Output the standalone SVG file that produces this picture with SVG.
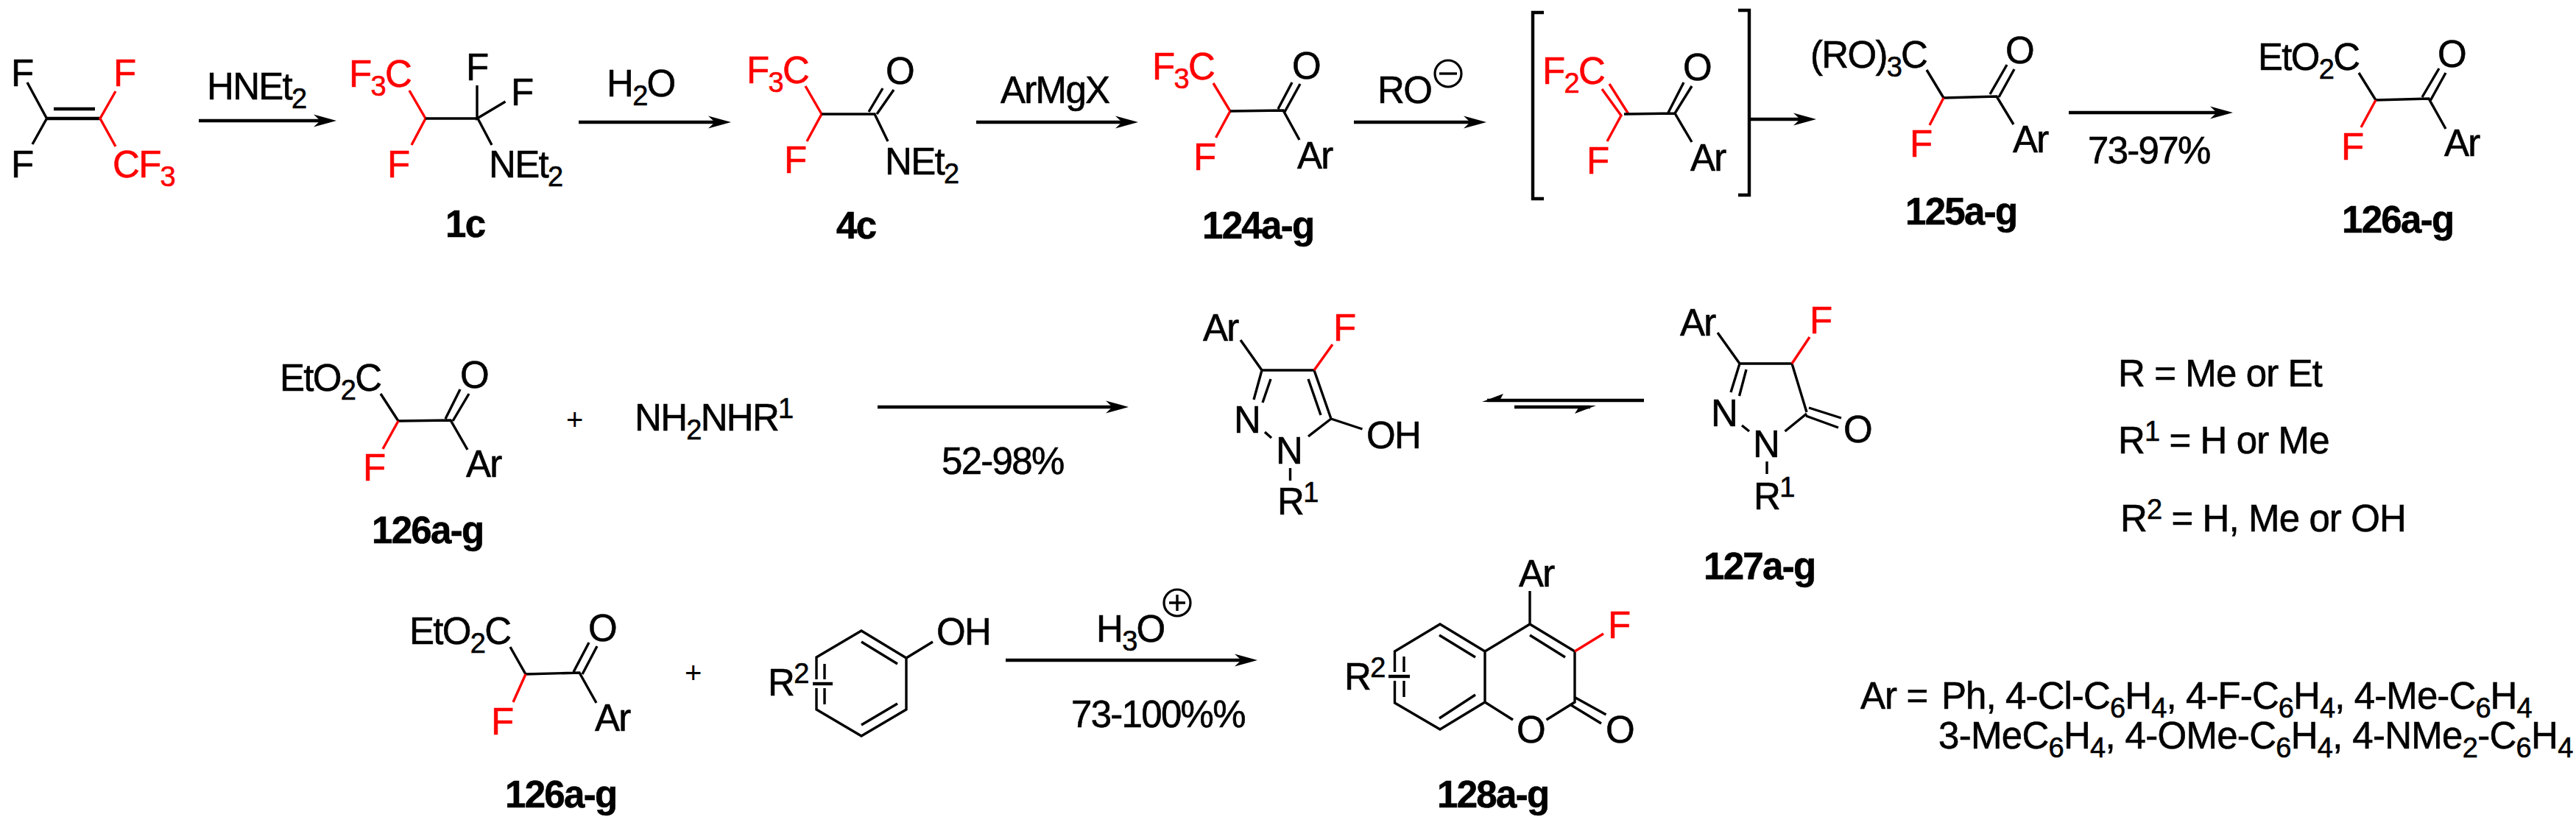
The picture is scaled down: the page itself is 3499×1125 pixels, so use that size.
<svg xmlns="http://www.w3.org/2000/svg" width="3499" height="1125" viewBox="0 0 3499 1125">
<style>
text{font-family:"Liberation Sans",Arial,sans-serif;font-size:51px;letter-spacing:-1.7px;fill:#000;stroke:#000;stroke-width:.6px}
text.r{fill:#f00;stroke:#f00}
text.b{font-weight:bold}
text.p{font-size:40px;stroke-width:0}
text.d{letter-spacing:-.9px}
text.w{letter-spacing:-.7px}
tspan.s{font-size:38px}
path{fill:none;stroke:#000;stroke-width:3.4}
path.r{stroke:#f00}
path.k{stroke-width:4.4}
path.h{fill:#000;stroke:none}
.a{stroke:#000;stroke-width:4.4;fill:none;marker-end:url(#head)}
circle{fill:none;stroke:#000;stroke-width:3.2}
</style>
<defs>
<marker id="head" markerUnits="userSpaceOnUse" markerWidth="32" markerHeight="18" refX="10" refY="9" orient="auto" viewBox="0 0 32 18"><path d="M0,0.5 L31,9 L0,17.5 L9,9 Z" style="fill:#000;stroke:none"/></marker>
</defs>
<rect width="3499" height="1125" fill="#fff"/>

<g id="connectors">
<path class="a" d="M270,164H436"/>
<path class="a" d="M786,166H972"/>
<path class="a" d="M1326,166H1525"/>
<path class="a" d="M1839,166H1998"/>
<path class="a" d="M2378,162H2446"/>
<path class="a" d="M2810,153H3012"/>
<path class="a" d="M1192,553H1512"/>
<path class="a" d="M1366,897H1687"/>
<path class="k" d="M2233,544H2020"/>
<path class="h" d="M2013,546L2042,535L2036,546Z"/>
<path class="k" d="M2057,553H2160"/>
<path class="h" d="M2168,551L2139,562L2146,551Z"/>
</g>

<g id="reagents">
<text x="281" y="135">HNEt<tspan class="s" dy="12">2</tspan></text>
<text x="824" y="131">H<tspan class="s" dy="12">2</tspan><tspan dy="-12">O</tspan></text>
<text x="1359" y="140">ArMgX</text>
<text x="1871" y="140">RO</text>
<circle cx="1967" cy="100" r="18"/><path d="M1955,100H1979"/>
<text x="2836" y="222">73-97%</text>
<text x="1279" y="644">52-98%</text>
<text x="1489" y="872">H<tspan class="s" dy="12">3</tspan><tspan dy="-12">O</tspan></text>
<circle cx="1599" cy="819" r="18"/><path d="M1588,819H1610M1599,808V830"/>
<text x="1455" y="988">73-100%%</text>
<text class="p" x="769" y="584">+</text>
<text class="p" x="930" y="928">+</text>
</g>

<g id="tfp">
<path class="k" d="M63.5,161H136M73,148H129"/>
<path d="M37,112L63.5,161L44,196"/>
<path class="r" d="M157,124L136,161L157,199"/>
<text x="15" y="117">F</text><text class="r" x="154" y="117">F</text>
<text x="15" y="241">F</text><text class="r" x="153" y="241">CF<tspan class="s" dy="12">3</tspan></text>
</g>

<g id="c1c">
<path class="r" d="M556,123L578,161L559,197"/>
<path d="M578,161H649M648,116V161L686.5,138M649,161L668,197"/>
<text class="r" x="474" y="118">F<tspan class="s" dy="12">3</tspan><tspan dy="-12">C</tspan></text>
<text x="633" y="109">F</text><text x="694" y="143">F</text>
<text x="664" y="241">NEt<tspan class="s" dy="12">2</tspan></text>
<text class="r" x="526" y="241">F</text>
<text class="b" x="605" y="322">1c</text>
</g>

<g id="c4c">
<path class="r" d="M1094,117L1116,155L1096,192"/>
<path d="M1116,155H1188L1206,192M1199,120L1180,152M1214,122L1191,155"/>
<text class="r" x="1014" y="113">F<tspan class="s" dy="12">3</tspan><tspan dy="-12">C</tspan></text>
<text class="r" x="1065" y="235">F</text>
<text x="1203" y="114">O</text>
<text x="1202" y="237">NEt<tspan class="s" dy="12">2</tspan></text>
<text class="b" x="1136" y="324">4c</text>
</g>

<g id="c124">
<path class="r" d="M1648,113L1671,151L1651.5,187"/>
<path d="M1671,151L1743,150L1765,190M1755,112L1736,148M1766,114L1745,152"/>
<text class="r" x="1565" y="108">F<tspan class="s" dy="12">3</tspan><tspan dy="-12">C</tspan></text>
<text x="1755" y="107">O</text>
<text class="r" x="1621" y="231">F</text>
<text x="1762" y="229">Ar</text>
<text class="b" x="1633" y="324">124a-g</text>
</g>

<g id="intermediate">
<path class="k" d="M2097,17H2082V270H2097M2361,14H2376V265H2361"/>
<path class="r" d="M2176,121L2202,157L2183,192M2186,114L2212,155"/>
<path d="M2206,155L2275,154L2298,193M2287,112L2266,153M2298,117L2275,154"/>
<text class="r" x="2095" y="114">F<tspan class="s" dy="12">2</tspan><tspan dy="-12">C</tspan></text>
<text x="2286" y="109">O</text>
<text class="r" x="2155" y="236">F</text>
<text x="2296" y="232">Ar</text>
</g>

<g id="c125">
<path d="M2617,95L2640,133L2712,131L2735,169M2726,88L2703,128M2736,94L2715,132"/>
<path class="r" d="M2640,133L2621,170"/>
<text x="2459" y="92">(RO)<tspan class="s" dy="12">3</tspan><tspan dy="-12">C</tspan></text>
<text x="2724" y="86">O</text>
<text class="r" x="2594" y="213">F</text>
<text x="2734" y="207">Ar</text>
<text class="b" x="2588" y="305">125a-g</text>
</g>

<g id="c126-top">
<path d="M3204,99L3227,136L3299,134L3322,175M3313,93L3290,132M3322,99L3301,137"/>
<path class="r" d="M3227,136L3207,173"/>
<text x="3067" y="95">EtO<tspan class="s" dy="12">2</tspan><tspan dy="-12">C</tspan></text>
<text x="3311" y="91">O</text>
<text class="r" x="3180" y="217">F</text>
<text x="3320" y="212">Ar</text>
<text class="b" x="3181" y="316">126a-g</text>
</g>

<g id="c126-mid">
<path d="M517,535L541,572L612,571L635,611M625,529L605,569M637,535L615,572"/>
<path class="r" d="M541,572L520,610"/>
<text x="380" y="531">EtO<tspan class="s" dy="12">2</tspan><tspan dy="-12">C</tspan></text>
<text x="625" y="527">O</text>
<text class="r" x="493" y="653">F</text>
<text x="633" y="648">Ar</text>
<text class="b" x="505" y="738">126a-g</text>
</g>

<g id="hydrazine">
<text x="862" y="585">NH<tspan class="s" dy="12">2</tspan><tspan dy="-12">NHR</tspan><tspan class="s" dy="-17">1</tspan></text>
</g>

<g id="hydroxypyrazole">
<path d="M1685,462L1714,503H1785M1714,503L1703,543M1726,515L1715,547M1785,503L1808,569M1777,515L1794,564M1808,569L1850.5,583M1808,569L1777,593M1718,587L1727,595M1752.5,636V653"/>
<path class="r" d="M1810,468L1785,503"/>
<text x="1634" y="463">Ar</text>
<text class="r" x="1811" y="463">F</text>
<text x="1676" y="588">N</text>
<text x="1733" y="630">N</text>
<text x="1735" y="699">R<tspan class="s" dy="-17">1</tspan></text>
<text x="1856" y="609">OH</text>
</g>

<g id="c127">
<path d="M2333,452L2363,494H2434M2363,494L2351,533M2372,502L2362.5,538M2434,494L2454,560M2457,554L2501,568M2453,565L2497,581M2454,562L2424.5,586M2366,578L2376,586M2400,627V644"/>
<path class="r" d="M2458,458L2434,494"/>
<text x="2282" y="456">Ar</text>
<text class="r" x="2458" y="453">F</text>
<text x="2324" y="579">N</text>
<text x="2381" y="621">N</text>
<text x="2382" y="692">R<tspan class="s" dy="-17">1</tspan></text>
<text x="2504" y="601">O</text>
<text class="b" x="2314" y="787">127a-g</text>
</g>

<g id="definitions">
<text class="d" x="2877" y="525">R = Me or Et</text>
<text class="d" x="2877" y="616">R<tspan class="s" dy="-17">1</tspan><tspan dy="17"> = H or Me</tspan></text>
<text class="d" x="2880" y="722">R<tspan class="s" dy="-17">2</tspan><tspan dy="17"> = H, Me or OH</tspan></text>
<text class="d" x="2527" y="963">Ar =<tspan x="2637">Ph, 4-Cl-C</tspan><tspan class="s" dy="12">6</tspan><tspan dy="-12">H</tspan><tspan class="s" dy="12">4</tspan><tspan dy="-12">, 4-F-C</tspan><tspan class="s" dy="12">6</tspan><tspan dy="-12">H</tspan><tspan class="s" dy="12">4</tspan><tspan dy="-12">, 4-Me-C</tspan><tspan class="s" dy="12">6</tspan><tspan dy="-12">H</tspan><tspan class="s" dy="12">4</tspan></text>
<text class="w" x="2633" y="1017">3-MeC<tspan class="s" dy="12">6</tspan><tspan dy="-12">H</tspan><tspan class="s" dy="12">4</tspan><tspan dy="-12">, 4-OMe-C</tspan><tspan class="s" dy="12">6</tspan><tspan dy="-12">H</tspan><tspan class="s" dy="12">4</tspan><tspan dy="-12">, 4-NMe</tspan><tspan class="s" dy="12">2</tspan><tspan dy="-12">-C</tspan><tspan class="s" dy="12">6</tspan><tspan dy="-12">H</tspan><tspan class="s" dy="12">4</tspan></text>
</g>

<g id="c126-bot">
<path d="M693,879L714,916L787,914L810,955M800,873L779,913M811,878L791,916"/>
<path class="r" d="M714,916L697,954"/>
<text x="556" y="875">EtO<tspan class="s" dy="12">2</tspan><tspan dy="-12">C</tspan></text>
<text x="799" y="871">O</text>
<text class="r" x="667" y="998">F</text>
<text x="808" y="993">Ar</text>
<text class="b" x="686" y="1097">126a-g</text>
</g>

<g id="phenol">
<path d="M1109,923V893L1170,857L1231,894V964L1170,1000L1109,964V935M1170,872L1219,902M1219,956L1170,985M1120,902V923M1120,935V957M1231,894L1267,872"/>
<path class="k" d="M1104,929H1131"/>
<text x="1043" y="945">R<tspan class="s" dy="-17">2</tspan></text>
<text x="1272" y="876">OH</text>
</g>

<g id="c128">
<path d="M2078,803V848L2139,885V954L2100.5,978M2078,848L2017,885V954L2055,978M2017,885L1956,848L1894.5,885V913M1894.5,925V955L1956,991L2017,954M1955,863L2004,893M1955,976L2004,944M1907,892V913M1907,925V947M2078,863L2126,893M2140,948L2181.5,971M2134,958L2175,983"/>
<path class="k" d="M1886,919H1915"/>
<path class="r" d="M2139,885L2178,861"/>
<text x="2063" y="797">Ar</text>
<text class="r" x="2184" y="867">F</text>
<text x="1826" y="937">R<tspan class="s" dy="-17">2</tspan></text>
<text x="2060" y="1009">O</text>
<text x="2181" y="1009">O</text>
<text class="b" x="1952" y="1097">128a-g</text>
</g>
</svg>
